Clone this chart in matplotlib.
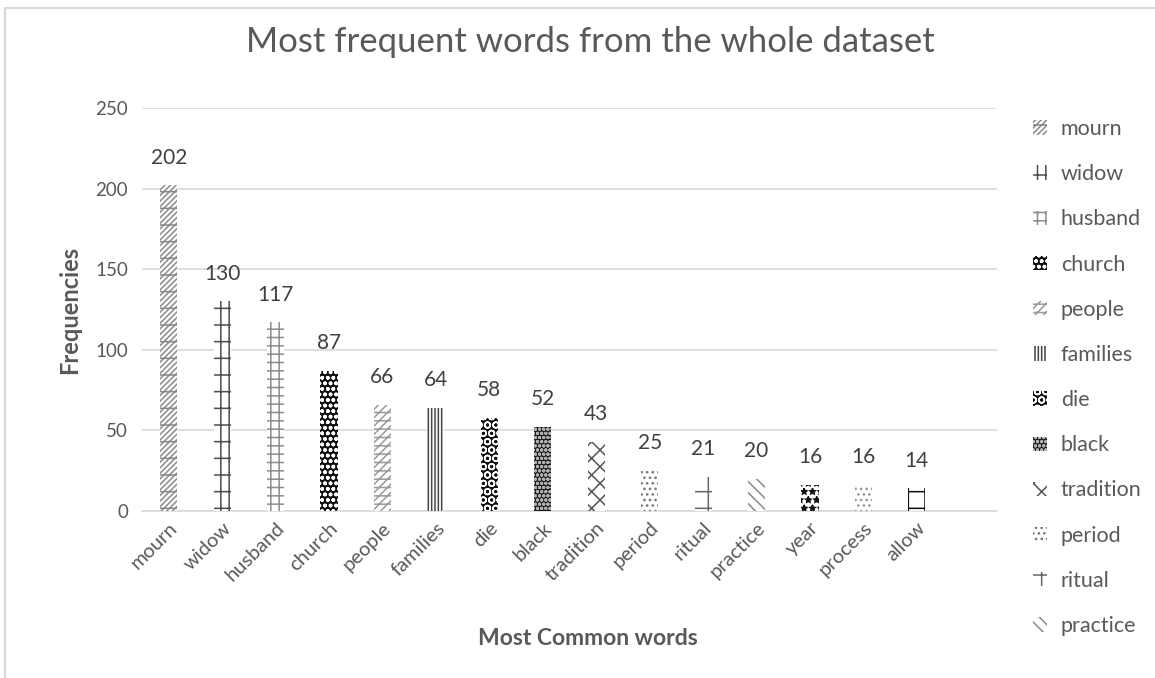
import matplotlib.pyplot as plt
from matplotlib.patches import Rectangle

plt.rcParams['font.family'] = ['Lato', 'DejaVu Sans']
plt.rcParams['hatch.linewidth'] = 1.1

# word counts
words = ['mourn', 'widow', 'husband', 'church', 'people', 'families', 'die', 'black',
         'tradition', 'period', 'ritual', 'practice', 'year', 'process', 'allow']
counts = [202, 130, 117, 87, 66, 64, 58, 52, 43, 25, 21, 20, 16, 16, 14]

# fill patterns for each bar: face, hatch colour, hatch
faces = ['white', 'white', 'white', '#111111', 'white', 'white', '#111111', '#1a1a1a',
         'white', 'white', 'white', 'white', 'white', 'white', 'white']
inks = ['#8a8a8a', '#4d4d4d', '#8c8c8c', 'white', '#9a9a9a', '#444444', 'white', '#b0b0b0',
        '#555555', '#777777', '#666666', '#8a8a8a', '#111111', '#999999', '#111111']
hatches = ['//////-', '||-', '++', 'ooo', '////--', '|||||', 'OO', 'oooo',
           'xx', '...', '+', '\\\\\\', '**', '...', '|-']

grey = '#595959'

fig = plt.figure(figsize=(11.55, 6.78), dpi=100)
ax = fig.add_axes([142 / 1155, 1 - 511 / 678, (997 - 142) / 1155, (511 - 108) / 678])

x = range(len(words))
bars = []
for i in x:
    b = ax.bar(i, counts[i], width=0.32, color=faces[i], edgecolor=inks[i],
               hatch=hatches[i], linewidth=0, label=words[i], zorder=3)
    bars.append(b[0])
    ax.annotate(str(counts[i]), (i, counts[i]), xytext=(0, 20), textcoords='offset points',
                ha='center', va='center', fontsize=15, color='#404040')

ax.set_xlim(-0.5, 15.5)
ax.set_ylim(0, 250)
ax.set_yticks([0, 50, 100, 150, 200, 250])
ax.grid(axis='y', color='#d9d9d9', linewidth=1.2, zorder=0)
for s in ['top', 'right', 'left']:
    ax.spines[s].set_visible(False)
ax.spines['bottom'].set_color('#d9d9d9')
ax.spines['bottom'].set_linewidth(1.2)
ax.tick_params(length=0, labelsize=13.5, colors=grey, pad=10)
ax.set_xticks(list(x))
ax.set_xticklabels(words, rotation=45, ha='right', rotation_mode='anchor', fontsize=14.5)
ax.tick_params(axis='x', pad=6)

ax.set_xlabel('Most Common words', fontsize=16.5, fontweight='bold', color=grey)
ax.xaxis.set_label_coords(0.522, -0.29)
ax.set_ylabel('Frequencies', fontsize=17, fontweight='bold', color=grey, labelpad=10)

fig.text(0.511, 1 - 42 / 678, 'Most frequent words from the whole dataset',
         ha='center', va='center', fontsize=25, color=grey)

# legend only has room for the first twelve entries
leg = fig.legend(handles=bars[:12], labels=words[:12], loc='upper left',
                 bbox_to_anchor=(1033 / 1155, 1 - 119 / 678), frameon=False,
                 borderpad=0, borderaxespad=0,
                 fontsize=15.5, labelcolor=grey, handlelength=0.65, handleheight=0.65,
                 handletextpad=0.65, labelspacing=1.17)

fig.add_artist(Rectangle((5 / 1155, -0.1), 1.2, 1.1 - 8 / 678, transform=fig.transFigure,
                         fill=False, edgecolor='#d9d9d9', linewidth=1.5))

fig.savefig('out.png', dpi=100)
